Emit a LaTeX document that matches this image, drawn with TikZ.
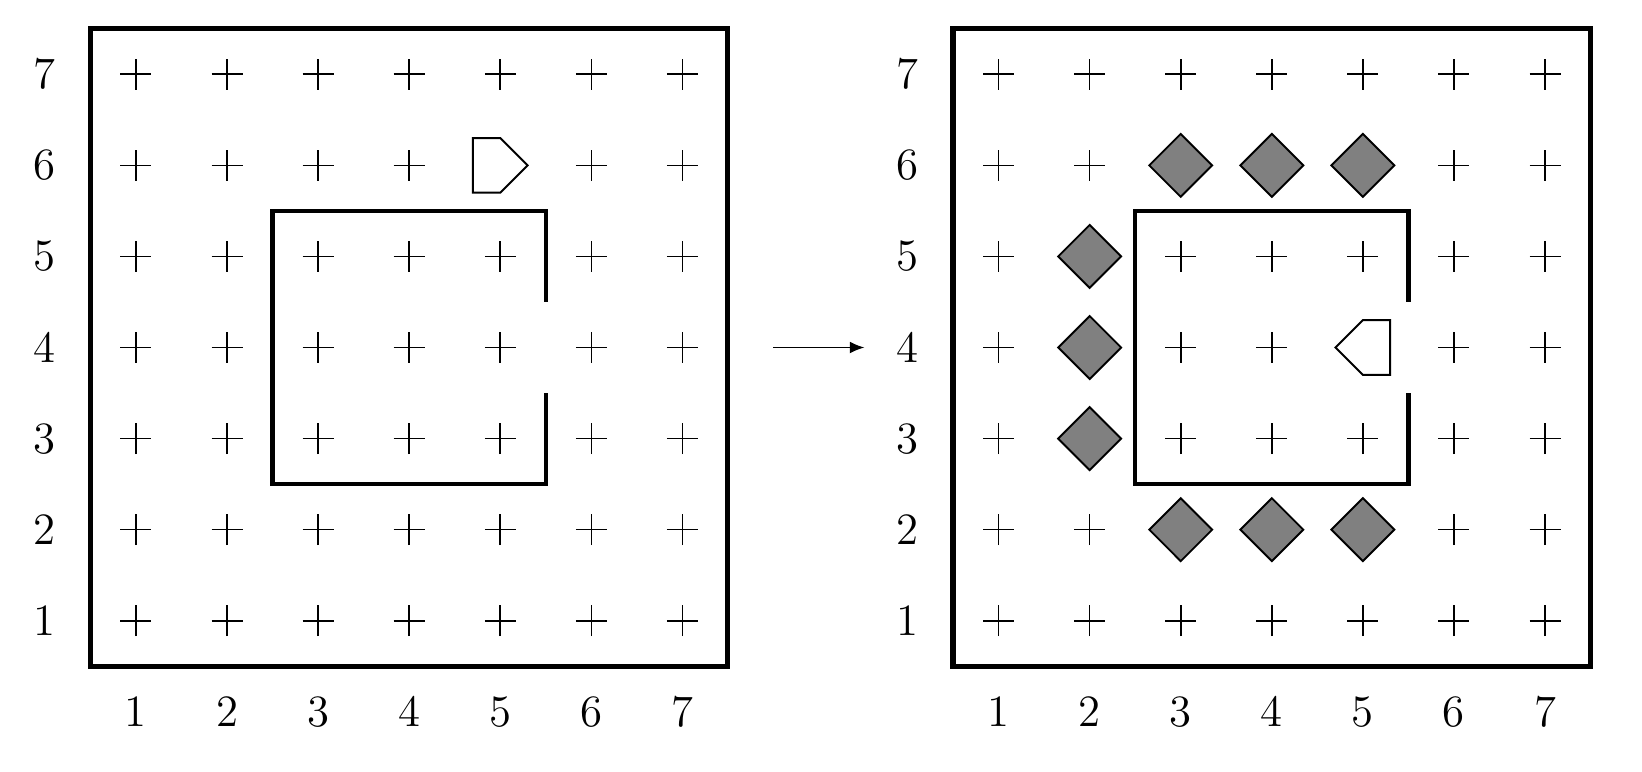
\documentclass[tikz,border=0pt]{standalone}
\usetikzlibrary{arrows.meta,shapes.geometric}
\tikzset{
  frameline/.style={line width=1.6pt},
  wallline/.style={line width=1.4pt},
  plusline/.style={line width=0.5pt},
  robotline/.style={draw, line width=0.6pt, fill=white},
  obstacle/.style={diamond, draw, fill=gray, line width=0.6pt, minimum size=0.7cm, inner sep=0pt, aspect=1},
  lbl/.style={font=\fontsize{14}{17}\selectfont, inner sep=0pt},
  gridplus/.pic={\draw[plusline] (-0.17,0) -- (0.17,0) (0,-0.17) -- (0,0.17);},
  robotright/.pic={\draw[robotline] (-0.3,-0.3) -- (0,-0.3) -- (0.3,0) -- (0,0.3) -- (-0.3,0.3) -- cycle;},
  robotleft/.pic={\draw[robotline] (0.3,-0.3) -- (0,-0.3) -- (-0.3,0) -- (0,0.3) -- (0.3,0.3) -- cycle;},
}
\begin{document}
\begin{tikzpicture}
\useasboundingbox (-0.493,-0.661) rectangle (17.537,7.816);
% ---------- left grid ----------
\begin{scope}
  \draw[frameline] (0.5,0.5) rectangle (7.5,7.5);
  \draw[wallline] (5.5,4.5) -- (5.5,5.5) -- (2.5,5.5) -- (2.5,2.5) -- (5.5,2.5) -- (5.5,3.5);
  \foreach \i in {1,...,7}{
    \node[lbl] (lx\i) at (\i,0) {\i};
    \node[lbl] (ly\i) at (0,\i) {\i};
  }
  \foreach \x in {1,...,7}{\foreach \y in {1,...,7}{
    \pgfmathtruncatemacro\skipit{(\x==5)&&(\y==6)}
    \ifnum\skipit=0 \pic at (\x,\y) {gridplus};\fi
  }}
  \pic (robA) at (5,6) {robotright};
\end{scope}
% ---------- arrow ----------
\coordinate (arrS) at (8,4);
\coordinate (arrE) at (9,4);
\draw[-{Latex[length=1.6mm,width=1.3mm]}, line width=0.6pt] (arrS) -- (arrE);
% ---------- right grid ----------
\begin{scope}[xshift=9.472cm]
  \draw[frameline] (0.5,0.5) rectangle (7.5,7.5);
  \draw[wallline] (5.5,4.5) -- (5.5,5.5) -- (2.5,5.5) -- (2.5,2.5) -- (5.5,2.5) -- (5.5,3.5);
  \foreach \i in {1,...,7}{
    \node[lbl] (rx\i) at (\i,0) {\i};
    \node[lbl] (ry\i) at (0,\i) {\i};
  }
  \foreach \x in {1,...,7}{\foreach \y in {1,...,7}{
    \pgfmathtruncatemacro\skipit{((\x==5)&&(\y==4)) || (((\y==6)||(\y==2))&&(\x>=3)&&(\x<=5)) || ((\x==2)&&(\y>=3)&&(\y<=5))}
    \ifnum\skipit=0 \pic at (\x,\y) {gridplus};\fi
  }}
  \foreach \x/\y in {3/6,4/6,5/6,2/5,2/4,2/3,3/2,4/2,5/2}{
    \node[obstacle] (ob\x\y) at (\x,\y) {};
  }
  \pic (robB) at (5,4) {robotleft};
\end{scope}
\end{tikzpicture}
\end{document}
